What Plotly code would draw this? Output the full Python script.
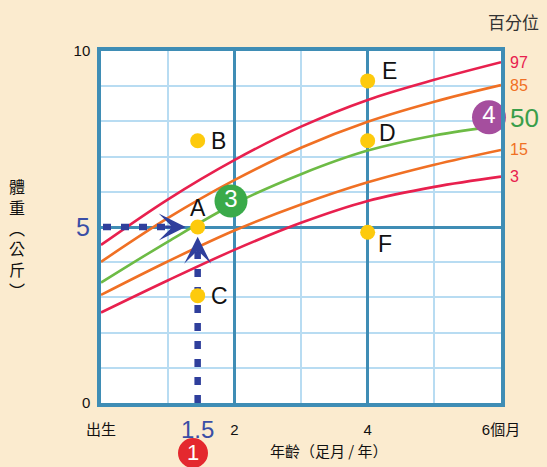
import plotly.graph_objects as go

# 月齡（足月）
months = [0, 1, 2, 3, 4, 5, 6]
# 各百分位體重曲線（公斤）
p97 = [4.49, 5.78, 6.90, 7.85, 8.61, 9.18, 9.68]
p85 = [4.01, 5.25, 6.33, 7.25, 7.99, 8.56, 9.03]
p50 = [3.42, 4.58, 5.66, 6.50, 7.17, 7.60, 7.88]
p15 = [3.07, 4.02, 4.90, 5.64, 6.27, 6.77, 7.19]
p03 = [2.57, 3.48, 4.35, 5.12, 5.74, 6.14, 6.43]

# 範例點
pt_names = ['A', 'B', 'C', 'D', 'E', 'F']
pt_age = [1.45, 1.45, 1.45, 4, 4, 4]
pt_weight = [5.0, 7.45, 3.05, 7.45, 9.15, 4.85]

# 刻度
x_ticks = [0, 2, 4, 6]
x_ticktext = ['出生', '2', '4', '6個月']
y_ticks = [0, 5, 10]
y_ticktext = ['0', '', '10']

RED = '#e8204e'
ORANGE = '#f07024'
GREEN = '#6dbb45'
NAVY = '#2f3f9c'
BLUE_TXT = '#3a4ea6'
FRAME = '#3f8db5'
FONT = 'Liberation Sans, Noto Sans CJK TC, sans-serif'
CJK = 'Noto Sans CJK TC, sans-serif'

curves = [
    ('97', p97, RED, RED),
    ('85', p85, ORANGE, ORANGE),
    ('50', p50, GREEN, '#3a9e4a'),
    ('15', p15, ORANGE, ORANGE),
    ('3', p03, RED, RED),
]

fig = go.Figure()

# 百分位曲線
for name, vals, col, _ in curves:
    fig.add_trace(go.Scatter(
        x=months, y=vals, mode='lines', name=name,
        line=dict(color=col, width=2.6, shape='spline'),
        hoverinfo='skip'
    ))

# 虛線：年齡 1.5 往上、體重 5 往右
fig.add_trace(go.Scatter(
    x=[pt_age[0], pt_age[0]], y=[0, 4.3], mode='lines',
    line=dict(color=NAVY, width=6.5, dash='8px,10px'), hoverinfo='skip'
))
fig.add_trace(go.Scatter(
    x=[0.03, 1.05], y=[pt_weight[0], pt_weight[0]], mode='lines',
    line=dict(color=NAVY, width=6.5, dash='8px,10px'), hoverinfo='skip'
))
fig.add_trace(go.Scatter(
    x=[pt_age[0]], y=[-0.08], mode='markers', cliponaxis=False,
    marker=dict(color=NAVY, size=13), hoverinfo='skip'
))

# A~F 黃點
fig.add_trace(go.Scatter(
    x=pt_age, y=pt_weight, mode='markers',
    marker=dict(color='#fdca0c', size=15), cliponaxis=False, hoverinfo='skip'
))

# 編號圓圈 2~4
badges = [
    ('2', -0.75, 5.17, '#4a7cc0', 31),
    ('3', 1.95, 5.74, '#3aaa4a', 33),
    ('4', 5.82, 8.12, '#a54e9e', 34),
]
for txt, bx, by, bcol, bsize in badges:
    fig.add_trace(go.Scatter(
        x=[bx], y=[by], mode='markers+text', text=[txt],
        textposition='middle center',
        textfont=dict(size=24, color='white', family=FONT),
        marker=dict(color=bcol, size=bsize, opacity=1),
        cliponaxis=False, hoverinfo='skip'
    ))

# 編號圓圈 1（在軸下方）
fig.add_shape(type='circle', xref='x', yref='paper', xsizemode='pixel', ysizemode='pixel',
              xanchor=1.38, yanchor=-0.142, x0=-15, x1=15, y0=-15, y1=15,
              fillcolor='#e4282e', line=dict(width=0), layer='above')

annotations = []
annotations.append(dict(x=1.38, y=-0.142, xref='x', yref='paper', text='1', showarrow=False,
                        xanchor='center', yanchor='middle',
                        font=dict(size=22, color='white', family=FONT)))

# A~F 標籤
label_shift = [(0, 19), (21, 0), (22, 0), (20, 8), (22, 10), (17, -12)]
for name, xa, yw, (dx, dy) in zip(pt_names, pt_age, pt_weight, label_shift):
    annotations.append(dict(x=xa, y=yw, xref='x', yref='y', text=name, showarrow=False,
                            xanchor='center', yanchor='middle', xshift=dx, yshift=dy,
                            font=dict(size=23, color='#111111', family=FONT)))

# 箭頭
annotations.append(dict(x=1.27, y=5, xref='x', yref='y', text='', showarrow=True,
                        ax=-22, ay=0, arrowhead=3, arrowsize=1.5, arrowwidth=3,
                        arrowcolor=NAVY))
annotations.append(dict(x=pt_age[0], y=4.72, xref='x', yref='y', text='', showarrow=True,
                        ax=0, ay=22, arrowhead=3, arrowsize=1.5, arrowwidth=3,
                        arrowcolor=NAVY))

# 右側百分位標籤
for name, vals, _, tcol in curves:
    big = name == '50'
    annotations.append(dict(
        x=6, y=8.1 if big else vals[-1], xref='x', yref='y', text=name,
        showarrow=False, xanchor='left', yanchor='middle', xshift=7,
        font=dict(size=26 if big else 16, color=tcol, family=FONT)
    ))

annotations.append(dict(x=1.03, y=1.083, xref='paper', yref='paper', text='百分位',
                        xanchor='center', yanchor='middle', showarrow=False,
                        font=dict(size=17, color='#333333', family=CJK)))
annotations.append(dict(x=-0.045, y=5, xref='paper', yref='y', text='5', showarrow=False,
                        xanchor='center', yanchor='middle',
                        font=dict(size=25, color=BLUE_TXT, family=FONT)))
annotations.append(dict(x=pt_age[0], y=-0.076, xref='x', yref='paper', text='1.5',
                        xanchor='center', yanchor='middle', showarrow=False,
                        font=dict(size=24, color=BLUE_TXT, family=FONT)))
annotations.append(dict(x=0.57, y=-0.134, xref='paper', yref='paper',
                        text='年齡（足月 / 年）', showarrow=False,
                        xanchor='center', yanchor='middle',
                        font=dict(size=15, color='#111111', family=CJK)))

# 縱向座標標題
annotations.append(dict(x=-0.21, y=0.47, xref='paper', yref='paper',
                        text='<br>'.join(['體', '重', '︵', '公', '斤', '︶']),
                        showarrow=False, xanchor='center', yanchor='middle',
                        font=dict(size=16, color='#111111', family=CJK)))

fig.update_layout(
    width=547, height=467,
    margin=dict(l=101, r=46, t=51, b=64),
    paper_bgcolor='#fbebcf',
    plot_bgcolor='white',
    showlegend=False,
    font=dict(family=FONT, size=14, color='#111111'),
    annotations=annotations,
    xaxis=dict(
        range=[0, 6], tickvals=x_ticks, ticktext=x_ticktext,
        showgrid=True, gridcolor=FRAME, gridwidth=2.5, zeroline=False,
        showline=True, mirror=True, linecolor=FRAME, linewidth=3.5,
        ticks='', ticklabelstandoff=10, tickfont=dict(size=15),
        minor=dict(tickmode='linear', tick0=0, dtick=1, showgrid=True,
                   gridcolor='#b8dcf2', gridwidth=1.5),
        fixedrange=True
    ),
    yaxis=dict(
        range=[0, 10], tickvals=y_ticks, ticktext=y_ticktext,
        showgrid=True, gridcolor=FRAME, gridwidth=2.5, zeroline=False,
        showline=True, mirror=True, linecolor=FRAME, linewidth=3.5,
        ticks='', ticklabelstandoff=4, tickfont=dict(size=15),
        minor=dict(tickmode='linear', tick0=0, dtick=1, showgrid=True,
                   gridcolor='#b8dcf2', gridwidth=1.5),
        fixedrange=True
    ),
)

fig.write_html("out.html", config={'displayModeBar': False},
               post_script="document.body.style.margin='0';")
